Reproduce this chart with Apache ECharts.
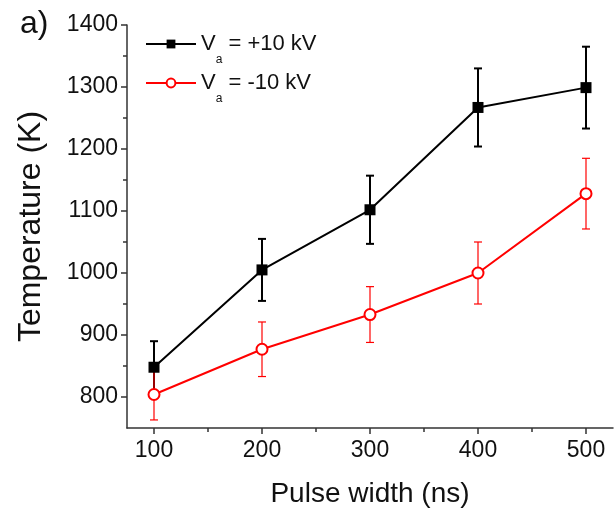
<!DOCTYPE html>
<html><head><meta charset="utf-8">
<script src="https://cdn.jsdelivr.net/npm/echarts@6/dist/echarts.min.js"></script>
<style>html,body{margin:0;padding:0;background:#fff}#c{width:616px;height:520px}</style>
</head><body><div id="c"></div>
<script>
const pulseWidth = [100, 200, 300, 400, 500];
const tempPos = [848, 1005, 1102, 1267, 1299];
const errPos = [42, 50, 55, 63, 66];
const tempNeg = [804, 877, 933, 1000, 1128];
const errNeg = [41, 44, 45, 50, 57];
const xMajorTicks = [100, 200, 300, 400, 500];
const xMinorTicks = [150, 250, 350, 450];
const yMajorTicks = [800, 900, 1000, 1100, 1200, 1300, 1400];
const yMinorTicks = [850, 950, 1050, 1150, 1250, 1350];
const namePos = 'Va = +10 kV';
const nameNeg = 'Va = -10 kV';

const FONT = '"Liberation Sans", Arial, sans-serif';
const AX = '#333';

function errSeries(vals, errs, color, width, z) {
  return {
    type: 'custom', xAxisIndex: 0, yAxisIndex: 0, z: z, silent: true,
    data: pulseWidth.map((x, i) => [x, vals[i] - errs[i], vals[i] + errs[i]]),
    encode: { x: 0, y: [1, 2] },
    renderItem: function (params, api) {
      const x = api.value(0);
      const lo = api.coord([x, api.value(1)]);
      const hi = api.coord([x, api.value(2)]);
      const hw = 4;
      const st = { stroke: color, lineWidth: width };
      return { type: 'group', children: [
        { type: 'line', shape: { x1: lo[0], y1: lo[1], x2: hi[0], y2: hi[1] }, style: st },
        { type: 'line', shape: { x1: lo[0] - hw, y1: lo[1], x2: lo[0] + hw, y2: lo[1] }, style: st },
        { type: 'line', shape: { x1: hi[0] - hw, y1: hi[1], x2: hi[0] + hw, y2: hi[1] }, style: st }
      ]};
    }
  };
}

const plain = v => String(v);

const chart = echarts.init(document.getElementById('c'), null, { renderer: 'canvas' });
chart.setOption({
  animation: false,
  backgroundColor: '#fff',
  textStyle: { fontFamily: FONT },
  grid: { left: 127, right: 3, top: 25, bottom: 92, containLabel: false, outerBoundsMode: 'none' },
  graphic: [{ type: 'text', left: 20, top: 8, style: { text: 'a)', font: '32px ' + FONT, fill: '#111' } }],
  legend: {
    orient: 'vertical', left: 140, top: 28, itemWidth: 50, itemHeight: 11, itemGap: 6,
    data: [namePos, nameNeg],
    formatter: function (n) { return '{v|V}{s|a}{t|' + n.slice(2) + '}'; },
    textStyle: {
      color: '#111', fontFamily: FONT, fontSize: 22,
      rich: {
        v: { fontSize: 22, fontFamily: FONT, color: '#111' },
        s: { fontSize: 12, fontFamily: FONT, color: '#111', padding: [32, 0, 0, 0] },
        t: { fontSize: 22, fontFamily: FONT, color: '#111' }
      }
    }
  },
  xAxis: [{
    type: 'value', min: 75, max: 525, position: 'bottom',
    name: 'Pulse width (ns)', nameLocation: 'middle', nameGap: 52,
    nameTextStyle: { fontSize: 28, color: '#111', fontFamily: FONT },
    axisLine: { show: true, lineStyle: { color: AX, width: 1.5 } },
    axisTick: { show: true, customValues: xMajorTicks, length: 6, lineStyle: { color: AX, width: 1.5 } },
    axisLabel: { customValues: xMajorTicks, formatter: plain, fontSize: 23, color: '#111', margin: 11, fontFamily: FONT },
    splitLine: { show: false }
  }, {
    type: 'value', min: 75, max: 525, position: 'bottom',
    axisLine: { show: false },
    axisTick: { show: true, customValues: xMinorTicks, length: 4, lineStyle: { color: AX, width: 1.5 } },
    axisLabel: { show: false }, splitLine: { show: false }
  }],
  yAxis: [{
    type: 'value', min: 750, max: 1400, position: 'left',
    name: 'Temperature (K)', nameLocation: 'middle', nameGap: 80, nameRotate: 90,
    nameTextStyle: { fontSize: 32, color: '#111', fontFamily: FONT },
    axisLine: { show: true, lineStyle: { color: AX, width: 1.5 } },
    axisTick: { show: true, customValues: yMajorTicks, length: 6, lineStyle: { color: AX, width: 1.5 } },
    axisLabel: { customValues: yMajorTicks, formatter: plain, fontSize: 23, color: '#111', margin: 9, fontFamily: FONT },
    splitLine: { show: false }
  }, {
    type: 'value', min: 750, max: 1400, position: 'left',
    axisLine: { show: false },
    axisTick: { show: true, customValues: yMinorTicks, length: 4, lineStyle: { color: AX, width: 1.5 } },
    axisLabel: { show: false }, splitLine: { show: false }
  }],
  series: [
    errSeries(tempPos, errPos, '#000', 2, 3),
    errSeries(tempNeg, errNeg, '#ff0000', 1.2, 4),
    {
      name: namePos, type: 'line', xAxisIndex: 0, yAxisIndex: 0, z: 5,
      data: pulseWidth.map((x, i) => [x, tempPos[i]]),
      symbol: 'rect', symbolSize: 11,
      itemStyle: { color: '#000' }, lineStyle: { color: '#000', width: 2 }
    },
    {
      name: nameNeg, type: 'line', xAxisIndex: 0, yAxisIndex: 0, z: 6,
      data: pulseWidth.map((x, i) => [x, tempNeg[i]]),
      symbol: 'emptyCircle', symbolSize: 11,
      itemStyle: { color: '#ff0000', borderWidth: 1.3 }, lineStyle: { color: '#ff0000', width: 2 }
    }
  ]
});
</script></body></html>
